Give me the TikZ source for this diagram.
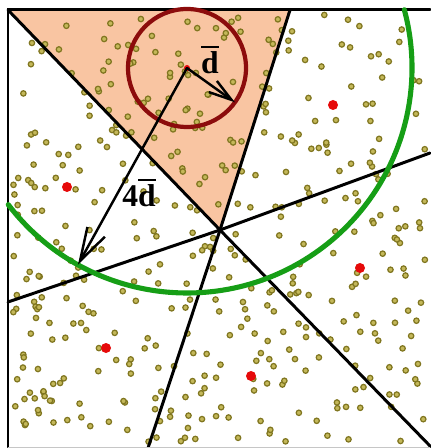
\documentclass[tikz,border=0pt]{standalone}
\usepackage{amsmath}
\usepackage{fontspec}
\setmainfont{Liberation Serif}
\usetikzlibrary{arrows.meta, calc}
\definecolor{CellColor}{RGB}{249,197,162}
\definecolor{SiteColor}{RGB}{230,10,10}
\definecolor{PointFill}{RGB}{196,184,90}
\definecolor{PointEdge}{RGB}{128,118,32}
\definecolor{RingColor}{RGB}{140,12,12}
\definecolor{ReachColor}{RGB}{22,158,22}
\newcommand{\barD}{\vbox{\hrule height 1.3pt\kern1.8pt\hbox{d}}}

\tikzset{
  border/.style={line width=1.7pt, black},
  sample/.style={fill=PointFill, draw=PointEdge, line width=0.7pt},
  site/.style={fill=SiteColor},
  radius arrow/.style={line width=1.4pt, -{Straight Barb[length=#1, width=0.6*#1, line width=1.4pt]}},
  dist label/.style={font=\fontsize{18}{20}\selectfont\bfseries, inner sep=0pt}
}

\begin{document}
\begin{tikzpicture}[x=0.02cm, y=-0.02cm, line cap=round]
  \useasboundingbox (0,0) rectangle (430,448);
  \def\dd{59} \def\rr{225}
  % Key points
  \coordinate (O) at (220,230);
  \coordinate (C) at (187,68);
  \coordinate (TL) at (8,10);
  \coordinate (TR) at (430,10);
  \coordinate (BL) at (8,448);
  \coordinate (T) at (290,10);
  \coordinate (L) at (8,302);
  \coordinate (R) at (430,153);
  \coordinate (B) at (148,448);
  \coordinate (BR) at (432,448);
  % Shaded cell
  \fill[CellColor] (TL) -- (T) -- (O) -- cycle;
  % Sample points
  \pgfmathsetseed{23}
  \foreach \k in {1,...,430} {
    \pgfmathsetmacro\px{13+414*rnd}
    \pgfmathsetmacro\py{14+430*rnd}
    \path[sample] (\px,\py) circle[radius=2.7];
  }
  % Cell borders
  \foreach \e in {TL,T,L,R,B,BR} {\draw[border] (O) -- (\e);}
  % Frame
  \draw[border] (TR) -- (TL) -- (BL);
  \draw[gray!45, thin] (8,447) -- (430,447);
  % Sites
  \foreach \s/\p in {s1/{67,187}, s2/{333,105}, s3/{360,268}, s4/{106,348}, s5/{251,376}} {
    \fill[site] (\p) circle[radius=5] coordinate (\s);
  }
  % Neighbourhood circle and reach arc
  \draw[RingColor, line width=2.4pt] (C) circle[radius=\dd];
  \draw[ReachColor, line width=2.9pt] ($(C)+(142.6:\rr)$) arc[start angle=142.6, end angle=-15, radius=\rr];
  \fill[SiteColor] (C) circle[radius=3];
  % Radius arrows
  \coordinate (dEnd) at ($(C)+(35.6:\dd)$);
  \coordinate (rEnd) at ($(C)+(119:\rr)$);
  \draw[radius arrow=19pt] (C) -- (rEnd);
  \draw[radius arrow=13pt] (C) -- (dEnd);
  % Labels
  \node[dist label] (dlab) at (210,60) {\barD};
  \node[dist label] (rlab) at (139,193) {4\barD};
\end{tikzpicture}
\end{document}
